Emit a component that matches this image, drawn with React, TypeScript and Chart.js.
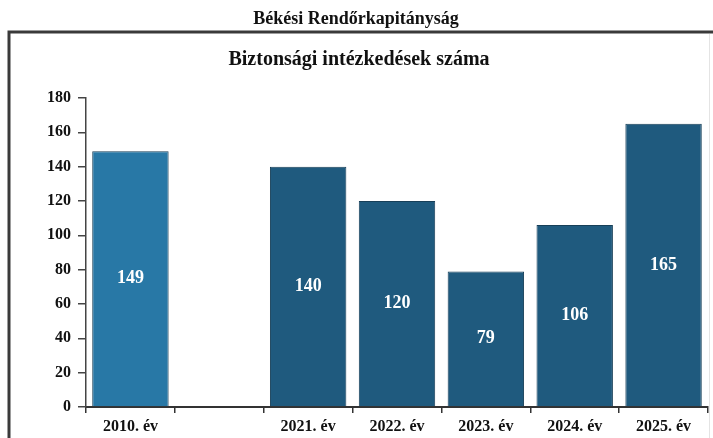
import React, { useEffect, useRef } from "react";
import { Chart, registerables } from "chart.js";

Chart.register(...registerables);

const mainTitle = "Békési Rendőrkapitányság";
const chartTitle = "Biztonsági intézkedések száma";
const categories = ["2010. év", "", "2021. év", "2022. év", "2023. év", "2024. év", "2025. év"];
const values: (number | null)[] = [149, null, 140, 120, 79, 106, 165];
const barColors = ["#2878a6", "#1f5a7e", "#1f5a7e", "#1f5a7e", "#1f5a7e", "#1f5a7e", "#1f5a7e"];
const yMin = 0;
const yMax = 180;
const yStep = 20;

const FONT = "'Liberation Serif', 'Times New Roman', serif";

const framePlugin = {
  id: "frame",
  beforeDraw(chart: any) {
    const ctx = chart.ctx;
    ctx.save();
    ctx.fillStyle = "#ffffff";
    ctx.fillRect(0, 0, chart.width, chart.height);
    ctx.strokeStyle = "#3a3a3a";
    ctx.lineWidth = 3;
    ctx.beginPath();
    ctx.moveTo(9, chart.height + 5);
    ctx.lineTo(9, 32);
    ctx.lineTo(chart.width + 5, 32);
    ctx.stroke();
    ctx.strokeStyle = "#e4e4e4";
    ctx.lineWidth = 1;
    ctx.beginPath();
    ctx.moveTo(709.5, 34);
    ctx.lineTo(709.5, chart.height);
    ctx.stroke();
    ctx.fillStyle = "#111111";
    ctx.textAlign = "center";
    ctx.textBaseline = "middle";
    ctx.font = `bold 18px ${FONT}`;
    ctx.fillText(mainTitle, 356, 19);
    ctx.font = `bold 20px ${FONT}`;
    ctx.fillText(chartTitle, 359, 60);
    ctx.restore();
  },
};

const valueLabelPlugin = {
  id: "valueLabels",
  afterDatasetsDraw(chart: any) {
    const ctx = chart.ctx;
    const meta = chart.getDatasetMeta(0);
    const data = chart.data.datasets[0].data;
    ctx.save();
    ctx.fillStyle = "#ffffff";
    ctx.textAlign = "center";
    ctx.textBaseline = "middle";
    ctx.font = `bold 18px ${FONT}`;
    meta.data.forEach((bar: any, i: number) => {
      const v = data[i];
      if (v === null || v === undefined) return;
      const { x, y, base } = bar.getProps(["x", "y", "base"], true);
      ctx.fillText(String(v), x, (y + base) / 2);
    });
    ctx.restore();
  },
};

export default function App() {
  const canvasRef = useRef<HTMLCanvasElement | null>(null);

  useEffect(() => {
    document.body.style.margin = "0";
    const canvas = canvasRef.current;
    if (!canvas) return;
    const chart = new Chart(canvas, {
      type: "bar",
      data: {
        labels: categories,
        datasets: [
          {
            data: values,
            backgroundColor: barColors,
            borderColor: "#173f58",
            borderWidth: 1,
            barPercentage: 0.86,
            categoryPercentage: 1,
          },
        ],
      },
      options: {
        animation: false,
        responsive: false,
        maintainAspectRatio: false,
        layout: { padding: { left: 8, right: 5, top: 98, bottom: 0 } },
        plugins: {
          legend: { display: false },
          tooltip: { enabled: false },
          title: { display: false },
        },
        scales: {
          x: {
            offset: true,
            grid: {
              display: true,
              drawOnChartArea: false,
              offset: true,
              tickLength: 6,
              color: "#333333",
              lineWidth: 1.5,
            },
            border: { display: true, color: "#333333", width: 2 },
            ticks: {
              color: "#111111",
              padding: 4,
              maxRotation: 0,
              autoSkip: false,
              font: { family: FONT, size: 16, weight: "bold" },
            },
            afterFit(scale: any) {
              scale.height = 31;
            },
          },
          y: {
            min: yMin,
            max: yMax,
            ticks: {
              stepSize: yStep,
              color: "#111111",
              padding: 7,
              font: { family: FONT, size: 16, weight: "bold" },
            },
            grid: {
              display: true,
              drawOnChartArea: false,
              tickLength: 8,
              color: "#444444",
              lineWidth: 1.5,
            },
            border: { display: true, color: "#444444", width: 1.5 },
            afterFit(scale: any) {
              scale.width = 78;
            },
          },
        },
      },
      plugins: [framePlugin, valueLabelPlugin],
    });
    return () => chart.destroy();
  }, []);

  return <canvas ref={canvasRef} width={713} height={438} style={{ display: "block" }} />;
}
